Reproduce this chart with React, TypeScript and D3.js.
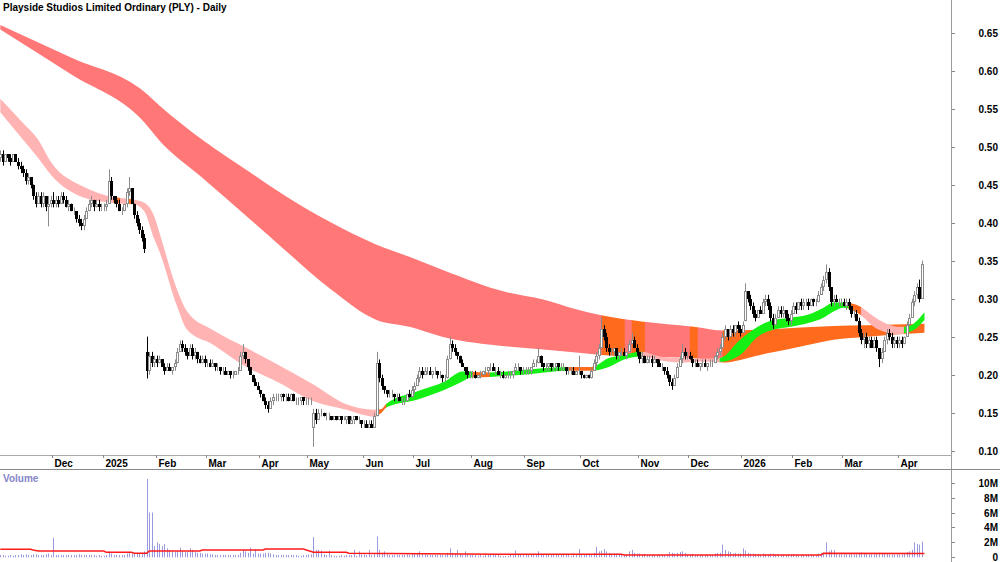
import React, { useEffect, useRef } from 'react';
import * as d3 from 'd3';

// daily bars, one array per month: [open, high, low, close, volume]
// prices in cents, volume in millions of shares
const nov24 = [
  [48.5,49.5,48,49,.3],[49,49.5,47.5,48,.3],[48,49,48,49,.2],[49,49,48,48.5,.2],[48.5,49,47.5,48,.3],
  [48,49,48,49,.2],[49,49,48,48,.3],[48,48.5,47,47.5,.3],[47.5,48,46.5,47,.4],[47,47.5,46,46.5,.3],
  [46.5,47,45,45.5,.4],[45.5,46.5,45,46,.3],[46,46,44.5,45,.3],[45,45,43,43.5,.4],[43.5,44,42,42.5,.4],
  [42.5,44,42.5,43.5,.3],[43.5,44,42,42.5,.3],[42.5,44,42,43.5,.3],[43.5,43.5,41.5,42,.4],[42,43.5,39.5,42.5,.5],
  [42.5,43.5,42,43,.3],
];
const dec24 = [
  [43,44,42,42.5,2.6],[42.5,43.5,42,43,.3],[43,43.5,42,42.5,.3],[42.5,44,42.5,43.5,.3],[43.5,44,42.5,43,.3],
  [43,43.5,42,42,.3],[42,43,41.5,42.5,.3],[42.5,42.5,41.5,41.5,.3],[41.5,42,41,41.5,.3],[41.5,41.5,40,40.5,.3],
  [40.5,41,39.5,40,.4],[40,40.5,39,39.5,.3],[39.5,41,39,40.5,.3],[40.5,42,40.5,41.5,.3],[41.5,43,41.5,42.5,.3],
  [42.5,43.5,42,43,.3],[43,43,41.5,42,.3],[42,43,42,42.5,.2],[42.5,43,41.5,42,.3],[42,42.5,41.5,42,.2],
];
const jan25 = [
  [42,42.5,41.5,42,.2],[42,43,41.5,42.5,.3],[42.5,47,42.5,45.5,.8],[45.5,46,43,43.5,.5],[43.5,43.5,42.5,43,.3],
  [43,43.5,42,42.5,.3],[42.5,43,41.5,41.5,.3],[41.5,42,41,41.5,.3],[41.5,42.5,41.5,42.5,.3],[42.5,44.5,42,44,.5],
  [44,46,43.5,44.5,.6],[44.5,44.5,42.5,42.5,.5],[42.5,42.5,40.5,41,.5],[41,41.5,39.5,40,.5],[40,40.5,38.5,39,.5],
  [39,39.5,37.5,38,.6],[38,38.5,36,36.5,.8],[23,25,19.5,20.5,10.5],[20.5,23,20,22.5,6],[22.5,23,21,21.5,6],
  [21.5,22.5,21,22,1.5],
];
const feb25 = [
  [22,22.5,21,21.5,2],[21.5,22.5,21.5,22,1.8],[22,22,21,21,1.5],[21,21.5,20,20.5,1.8],[20.5,21.5,20.5,21,1.2],
  [21,21.5,20.5,20.5,1],[20.5,21,20,21,.8],[21,22,20.5,21.5,.7],[21.5,23.5,21.5,23,.8],[23,24.5,23,24,1.3],
  [24,24.5,23,23.5,.8],[23.5,24,22.5,23,.7],[23,23.5,22,22.5,.7],[22.5,24,22.5,23.5,1.2],[23.5,24,22,22.5,1],
  [22.5,23.5,22,23,.7],[23,23,21.5,22,.6],[22,22.5,21.5,21.5,.6],[21.5,22.5,21.5,22,.5],[22,22.5,21,21.5,.5],
];
const mar25 = [
  [21.5,22,21,21.5,.5],[21.5,22,21,21,.4],[21,22,21,21.5,.4],[21.5,21.5,20.5,21,.3],[21,21.5,20.5,21,.3],
  [21,21,20,20.5,.3],[20.5,21,20,20.5,.3],[20.5,21,20,20,.3],[20,20.5,20,20.5,.3],[20.5,20.5,19.5,20,.3],
  [20,20.5,19.5,20,.3],[20,20.5,20,20.5,.3],[20.5,21,20,20.5,.3],[20.5,23,20.5,22.5,.6],[22.5,24,22,23,1],
  [23,23,21.5,22,.8],[22,22,20.5,21,.6],[21,21,20,20,1.3],[20,20,19,19,.5],[19,19.5,18.5,18.5,1.1],
  [18.5,19,18,18,.5],
];
const apr25 = [
  [18,18,17,17.5,.5],[17.5,17.5,16.5,16.5,.5],[16.5,17,15.5,16,.6],[16,16.5,15,15.5,.6],[15.5,17,15.5,16.5,.5],
  [16.5,17.5,16,17,.4],[17,17.5,16.5,17,.3],[17,17.5,16.5,17,.3],[17,17.5,16.5,17.5,.3],[17.5,17.5,16.5,17,.3],
  [17,17.5,16.5,17,.3],[17,17.5,16.5,16.5,.3],[16.5,17.5,16.5,17.5,.3],[17.5,17.5,16.5,16.5,.3],[16.5,17,16,16.5,.3],
  [16.5,17,16,16.5,.2],[16.5,17,16,17,.2],[17,17,16,16.5,.3],[16.5,17,16,16.5,.3],
];
const may25 = [
  [16.5,17,16,16.5,.4],[16.5,17,16,16.5,.4],[13,15.5,10.5,15,2.7],[15,15.5,13.5,14,1],[14,15.5,14,15,1],
  [15,15.5,14.5,15,.9],[15,15,14.5,14.5,.4],[14.5,15,14,14.5,.3],[14.5,15,14,14.5,.9],[14.5,14.5,14,14,.3],
  [14,14.5,14,14.5,.2],[14.5,14.5,14,14,.2],[14,14.5,14,14.5,.2],[14.5,14.5,13.5,14,.3],[14,14.5,14,14,.2],
  [14,14.5,13.5,14.5,.3],[14.5,14.5,13.5,13.5,.3],[13.5,14.5,13.5,14,.3],[14,14.5,13.5,14.5,1],[14.5,14.5,14,14,.2],
  [14,14.5,13.5,14,.8],[14,14,13,13.5,.4],
];
const jun25 = [
  [13.5,14,13,13.5,.4],[13.5,14,13,13,.3],[13,14,13,13.5,1],[13.5,14,13,13,.3],[13,15,13,14.5,.4],
  [14.5,23,14.5,21.5,2.8],[21.5,22,19,19.5,1],[19.5,20,18,18.5,.6],[18.5,18.5,17.5,18,.8],[18,18,17,17.5,.4],
  [17.5,18,17,17.5,.3],[17.5,18,17,17.5,.3],[17.5,17.5,16.5,17,.3],[17,17.5,16.5,17,.3],[17,17.5,16.5,16.5,.3],
  [16.5,17,16,16.5,.3],[16.5,17,16,16.5,.3],[16.5,17.5,16.5,17.5,.4],[17.5,18,17,17,.3],[17,18.5,17,18,.5],
];
const jul25 = [
  [18,19,17.5,18.5,.5],[18.5,20,18.5,19.5,.6],[19.5,21,19,20.5,.8],[20.5,21,19.5,20,.5],[20,21,20,20.5,.4],
  [20.5,21,20,20.5,.3],[20.5,21,20,20,.3],[20,20.5,19.5,20.5,.3],[20.5,21,20,20.5,.3],[20.5,20.5,19.5,20,.3],
  [20,20.5,19.5,20,.3],[20,20,19,19.5,.3],[19.5,20,19,19.5,.3],[19.5,22.5,19.5,22,.6],[22,25,22,24,1.2],
  [24,24.5,23,23.5,.6],[23.5,24,22.5,23,.5],[23,23,22,22.5,1],[22.5,22.5,21.5,21.5,.5],[21.5,22,21,21,.4],
  [21,21,20,20.5,.8],[20.5,21,19.5,20,.4],[20,20.5,19.5,20,.3],
];
const aug25 = [
  [20,20.5,19.5,20,.3],[20,20.5,19.5,19.5,.3],[19.5,20,19.5,20,.2],[20,20.5,19.5,20,.3],[20,20.5,20,20.5,.2],
  [20.5,21,20,20.5,.3],[20.5,21,20,21,.3],[21,21.5,20.5,21,.4],[21,21.5,20.5,20.5,.3],[20.5,21,20,20.5,.3],
  [20.5,21,20,20,.3],[20,20.5,19.5,20,.2],[20,20.5,19.5,19.5,.2],[19.5,20,19.5,20,.2],[20,20.5,19.5,20,.2],
  [20,20.5,19.5,20,.3],[20,20.5,19.5,20.5,.3],[20.5,21.5,20.5,21,.9],[21,21.5,20.5,21,.3],[21,21,20,20.5,.3],
  [20.5,21,20,20.5,.3],
];
const sep25 = [
  [20.5,21,20,20.5,.3],[20.5,21,20,20.5,.3],[20.5,21,20,21,.4],[21,22,21,21.5,.4],[21.5,22,21,21.5,.3],
  [21.5,23.5,21.5,22.5,.8],[22.5,22.5,21,21.5,.5],[21.5,21.5,20.5,21,.3],[21,21.5,20.5,21,.3],[21,21.5,20.5,21.5,.3],
  [21.5,21.5,20.5,21,.3],[21,21.5,20.5,21,.3],[21,21.5,20.5,21.5,.3],[21.5,21.5,20.5,21,.3],[21,21.5,20.5,21,.3],
  [21,21.5,20.5,21,.3],[21,21,20,20.5,.3],[20.5,21,20,20.5,.3],[20.5,21,20,20.5,.2],[20.5,21,20,20,.3],
  [20,20.5,20,20.5,.3],[20.5,22.5,20,20.5,1.1],
];
const oct25 = [
  [20.5,20.5,19.5,20,.4],[20,20,19.5,19.5,.3],[19.5,20,19.5,20,.3],[20,20,19.5,19.5,.3],[19.5,21,19.5,20.5,.4],
  [20.5,22,20.5,21.5,.6],[21.5,23,21,22.5,1.4],[22.5,24,22,23.5,.8],[23.5,27.5,23.5,26,.9],[26,26.5,24.5,25,1.1],
  [25,25.5,23,23.5,.8],[23.5,24,22.5,23,.6],[23,23.5,22.5,23,.5],[23,23.5,22.5,23.5,.5],[23.5,23.5,22,22.5,.5],
  [22.5,23,22,23,.4],[23,23.5,22.5,23,.4],[23,23.5,22.5,22.5,.4],[22.5,23,22,23,.4],[23,24.5,23,24,.8],
  [24,25.5,24,24.5,1],[24.5,25,23.5,23.5,.6],[23.5,24,22.5,23,.5],
];
const nov25 = [
  [23,23,21.5,22,.5],[22,23,21.5,22.5,.4],[22.5,22.5,21.5,21.5,.4],[21.5,22.5,21.5,22,.3],[22,22.5,21.5,22,.3],
  [22,22.5,21,21.5,.3],[21.5,22.5,21.5,22,.3],[22,22,21,21.5,.3],[21.5,22,21,21,.3],[21,21.5,20.5,21,.3],
  [21,21,20,20.5,.3],[20.5,21,19.5,20,.4],[20,20,18.5,19,.7],[19,19.5,18,18.5,.6],[18.5,20,18.5,19.5,.5],
  [19.5,21.5,19.5,21,.6],[21,22.5,21,22,.7],[22,24,21.5,23,.8],[23,23.5,22,22.5,.6],[22.5,23,22,22.5,.4],
];
const dec25 = [
  [22.5,23,22,22,.4],[22,22.5,21,21.5,.4],[21.5,22,21,21.5,.3],[21.5,22,21,21,.3],[21,21.5,20.5,21.5,.3],
  [21.5,22,21,21.5,.3],[21.5,22,21,21,.3],[21,21.5,20.5,21.5,.3],[21.5,22,21,21.5,.3],[21.5,22,21,21.5,.3],
  [21.5,22.5,21.5,22.5,.5],[22.5,23.5,22,23,.6],[23,24,22.5,23.5,.6],[23.5,25.5,23.5,25,1.7],[25,26.5,24.5,26,1],
  [26,26,24.5,25,.8],[25,26.5,25,26,.7],[26,26.5,25,25.5,.5],[25.5,26.5,25,26.5,.6],[26.5,27,25.5,26,.5],
  [26,26.5,25,25.5,.5],
];
const jan26 = [
  [25.5,27,25.5,26.5,1.2],[27,32,27,31,.9],[31,31,29.5,30,.6],[30,30.5,28.5,29,.5],[29,29.5,27.5,28,.5],
  [28,28.5,27,27.5,.4],[27.5,28.5,27.5,28.5,.4],[28.5,29,28,28,.3],[28,30,28,29.5,.5],[29.5,30.5,29,30,.4],
  [30,30.5,28.5,29,.4],[29,29.5,27,27.5,.5],[27.5,28,26,26.5,.5],[26.5,28,26.5,27.5,.4],[27.5,29,27.5,28.5,.4],
  [28.5,29,27.5,28,.3],[28,29,27.5,28.5,.3],[28.5,28.5,27,27.5,.3],[27.5,28,26.5,27,.3],[27,28.5,26.5,28,.3],
];
const feb26 = [
  [28,29.5,28,29,.4],[29,29.5,28,28.5,.3],[28.5,29.5,28.5,29.5,.3],[29.5,30,28.5,29,.3],[29,30,28.5,29.5,.3],
  [29.5,30,29,29.5,.3],[29.5,30,28.5,29,.3],[29,30,29,30,.3],[30,30,29,29.5,.3],[29.5,30,29,29.5,.3],
  [29.5,31,29.5,30.5,.5],[30.5,32,30.5,31.5,.6],[31.5,33,31,32.5,.6],[32.5,34.5,32,33.5,2],[33.5,34,31,31.5,.8],
  [31.5,31.5,29,29.5,1],[29.5,30.5,29,30,1],[30,30.5,29.5,29.5,.4],[29.5,30,29,29.5,.4],[29.5,30,29,29.5,.4],
];
const mar26 = [
  [29.5,30,29,29,.4],[29,30,28.5,29.5,.4],[29.5,30,28.5,29,.4],[29,29,27.5,28,.5],[28,28.5,27.5,28,.4],
  [28,28.5,27,27,.4],[27,27.5,25,25.5,.6],[25.5,26,24,24.5,.6],[24.5,25.5,23.5,25,.5],[25,25.5,23.5,24,.5],
  [24,25,23.5,24.5,.4],[24.5,25,23.5,23.5,.4],[23.5,25,23.5,24.5,.4],[24.5,25,23,23.5,.5],[23.5,23.5,21,22,.6],
  [22,23.5,21.5,23,.5],[23,25,23,24.5,.5],[24.5,26,24,25.5,.5],[25.5,26,24.5,25,.4],[25,25.5,23.5,24,.4],
  [24,25,23.5,24.5,.4],[24.5,25,23.5,24,.4],
];
const apr26 = [
  [24,25,23.5,24.5,.4],[24.5,25,23.5,24,.4],[24,25,24,25,.5],[25,27,25,26.5,.7],[26.5,28,26.5,27.5,.8],
  [27.5,30,27.5,29.5,1],[29.5,31,29,30.5,2],[30.5,32,30,31.5,1.8],[31.5,32.5,29.5,30,1.7],[30,35,30,34.5,2.1],
];

const monthBars = [nov24, dec24, jan25, feb25, mar25, apr25, may25, jun25, jul25, aug25, sep25, oct25, nov25, dec25, jan26, feb26, mar26, apr26];
const monthLabels = ['', 'Dec', '2025', 'Feb', 'Mar', 'Apr', 'May', 'Jun', 'Jul', 'Aug', 'Sep', 'Oct', 'Nov', 'Dec', '2026', 'Feb', 'Mar', 'Apr'];

const priceTicks = [0.10, 0.15, 0.20, 0.25, 0.30, 0.35, 0.40, 0.45, 0.50, 0.55, 0.60, 0.65];
const volumeTicks = [0, 2, 4, 6, 8, 10];

// moving average ribbons: [bar index, upper, lower]
const longRibbon = [
  [0,.660,.654],[28,.617,.595],[57,.572,.532],[63,.554,.508],[80,.509,.459],[99,.466,.404],[112,.437,.366],
  [131,.400,.312],[149,.371,.272],[162,.355,.263],[175,.338,.250],[201,.308,.237],[215,.299,.233],[228,.286,.229],
  [238,.278,.226],[254,.270,.224],[277,.262,.221],[286,.258,.216],[301,.259,.226],[307,.260,.230],[317,.262,.237],
  [330,.264,.246],[343,.265,.250],[366,.267,.255],
];
const shortRibbon = [
  [0,.563,.545],[9,.531,.509],[15,.509,.485],[20,.480,.463],[33,.447,.433],[44,.434,.426],[53,.430,.424],
  [57,.426,.415],[61,.408,.378],[63,.387,.362],[70,.312,.290],[74,.283,.259],[84,.259,.240],[97,.236,.211],
  [110,.213,.190],[124,.187,.165],[137,.161,.154],[148,.154,.145],[151,.155,.150],[153,.162,.157],[165,.178,.167],
  [176,.191,.180],[183,.204,.191],[186,.204,.196],[194,.203,.197],[210,.207,.201],[225,.210,.205],[234,.210,.205],
  [241,.222,.210],[247,.226,.220],[254,.230,.224],[261,.224,.219],[269,.222,.216],[277,.221,.217],[285,.222,.217],
  [293,.246,.226],[300,.263,.250],[306,.272,.259],[313,.275,.263],[320,.279,.268],[326,.288,.275],[330,.295,.283],
  [334,.295,.288],[339,.292,.282],[348,.272,.259],[356,.263,.253],[359,.263,.255],[362,.268,.259],[366,.282,.272],
];
// ribbon state runs: [from bar, to bar, state]
const longStates = [
  [0,238.3,'down'],[238.3,247.4,'mixed'],[247.4,250.2,'down'],[250.2,255.4,'mixed'],[255.4,273.2,'down'],
  [273.2,276.3,'mixed'],[276.3,286.2,'down'],[286.2,367,'mixed'],
];
const shortStates = [
  [0,45,'down'],[45,47.5,'mixed'],[47.5,50,'down'],[50,52.5,'mixed'],[52.5,149,'down'],[149,153,'mixed'],
  [153,187,'up'],[187,194,'mixed'],[194,225,'up'],[225,235,'mixed'],[235,254,'up'],[254,285,'down'],
  [285,336,'up'],[336,341,'mixed'],[341,358,'down'],[358,367,'up'],
];
// volume moving average, millions: [bar index, value]
const volumeAverage = [
  [0,1.07],[12,1.07],[13,0.98],[15,0.84],[41,0.84],[42,0.67],[52,0.67],[53,0.54],[58,0.54],[59,0.84],[79,0.84],
  [80,0.98],[104,0.98],[105,1.11],[120,1.11],[124,0.67],[137,0.67],[138,0.54],[198,0.4],[246,0.4],[247,0.31],
  [325,0.31],[326,0.54],[366,0.5],
];

const W = 1000;
const H = 562;
const PLOT_RIGHT = 952;
const PRICE_BOTTOM = 455;
const AXIS_BOTTOM = 469;
const FONT = 'Arial, "Liberation Sans", sans-serif';

const longColours = { down: '#ff7777', mixed: '#ff6a1c' };
const shortColours = { down: '#ffb3b3', mixed: '#ff6a1c', up: '#14ef14' };

const App = () => {
  const svgRef = useRef(null);

  useEffect(() => {
    const svg = d3.select(svgRef.current);
    svg.selectAll('*').remove();

    const bars = monthBars.flat();
    const starts = [];
    let n = 0;
    monthBars.forEach((m) => { starts.push(n); n += m.length; });

    const x = d3.scaleLinear().domain([0, 376]).range([0.3, 949.7]);
    const y = d3.scaleLinear().domain([0.10, 0.65]).range([450.7, 32.5]);
    const yv = d3.scaleLinear().domain([0, 10]).range([557.3, 482.7]);

    svg.append('rect').attr('width', W).attr('height', H).attr('fill', '#fff');
    const defs = svg.append('defs');
    defs.append('clipPath').attr('id', 'price-clip')
      .append('rect').attr('width', PLOT_RIGHT).attr('height', PRICE_BOTTOM);

    const plot = svg.append('g').attr('clip-path', 'url(#price-clip)');

    // ribbons, coloured run by run
    const drawRibbon = (pts, runs, colours, key) => {
      const area = d3.area()
        .x(d => x(d[0]))
        .y0(d => y(d[2]))
        .y1(d => y(d[1]))
        .curve(d3.curveMonotoneX);
      const path = area(pts);
      runs.forEach(([a, b, state], k) => {
        const id = `${key}-${k}`;
        defs.append('clipPath').attr('id', id)
          .append('rect')
          .attr('x', x(a) - 0.3).attr('y', 0)
          .attr('width', x(b) - x(a) + 0.6).attr('height', PRICE_BOTTOM);
        plot.append('path')
          .attr('d', path)
          .attr('fill', colours[state])
          .attr('clip-path', `url(#${id})`);
      });
    };
    drawRibbon(longRibbon, longStates, longColours, 'long');
    drawRibbon(shortRibbon, shortStates, shortColours, 'short');

    // candles
    const candles = plot.append('g');
    bars.forEach((b, i) => {
      const [o, h, l, c] = [b[0], b[1], b[2], b[3]].map(v => v / 100);
      const cx = Math.round(x(i));
      const up = c >= o;
      const colour = up ? '#8c8c8c' : '#000';
      candles.append('line')
        .attr('x1', cx + 0.5).attr('x2', cx + 0.5)
        .attr('y1', y(h)).attr('y2', y(l))
        .attr('stroke', colour).attr('stroke-width', 1);
      const top = Math.round(y(Math.max(o, c)));
      const bottom = Math.round(y(Math.min(o, c)));
      if (up) {
        candles.append('rect')
          .attr('x', cx - 0.5).attr('y', top + 0.5)
          .attr('width', 2).attr('height', Math.max(bottom - top - 1, 0))
          .attr('fill', '#fff').attr('stroke', colour).attr('stroke-width', 1);
      } else {
        candles.append('rect')
          .attr('x', cx - 1).attr('y', top)
          .attr('width', 3).attr('height', Math.max(bottom - top, 1))
          .attr('fill', '#000');
      }
    });

    // volume
    const vol = svg.append('g');
    bars.forEach((b, i) => {
      const cx = Math.round(x(i));
      const top = yv(b[4]);
      vol.append('rect')
        .attr('x', cx).attr('y', top)
        .attr('width', 1).attr('height', Math.max(yv(0) - top, 1))
        .attr('fill', '#9a9ade');
    });
    vol.append('path')
      .attr('d', d3.line().x(d => x(d[0])).y(d => yv(d[1]))(volumeAverage))
      .attr('fill', 'none').attr('stroke', '#ff1a1a').attr('stroke-width', 1.5);

    // frame
    svg.append('line').attr('x1', PLOT_RIGHT - 0.5).attr('x2', PLOT_RIGHT - 0.5).attr('y1', 0).attr('y2', H)
      .attr('stroke', '#9a9a9a');
    svg.append('line').attr('x1', 0).attr('x2', PLOT_RIGHT).attr('y1', PRICE_BOTTOM + 0.5).attr('y2', PRICE_BOTTOM + 0.5)
      .attr('stroke', '#aaa');
    svg.append('line').attr('x1', 0).attr('x2', W).attr('y1', AXIS_BOTTOM + 0.5).attr('y2', AXIS_BOTTOM + 0.5)
      .attr('stroke', '#888');

    // price axis
    priceTicks.forEach((t) => {
      const ty = Math.round(y(t)) + 0.5;
      svg.append('line').attr('x1', PLOT_RIGHT).attr('x2', PLOT_RIGHT + 3).attr('y1', ty).attr('y2', ty).attr('stroke', '#888');
      svg.append('text').attr('x', 998).attr('y', ty + 3.5)
        .attr('text-anchor', 'end').attr('font-family', FONT).attr('font-size', 10).attr('font-weight', 'bold')
        .attr('fill', '#000').text(t.toFixed(2));
    });

    // volume axis
    volumeTicks.forEach((t) => {
      const ty = Math.round(yv(t)) + 0.5;
      svg.append('line').attr('x1', PLOT_RIGHT).attr('x2', PLOT_RIGHT + 3).attr('y1', ty).attr('y2', ty).attr('stroke', '#888');
      svg.append('text').attr('x', 998).attr('y', ty + 3.5)
        .attr('text-anchor', 'end').attr('font-family', FONT).attr('font-size', 10).attr('font-weight', 'bold')
        .attr('fill', '#000').text(t === 0 ? '0' : `${t}M`);
    });

    // date axis
    monthLabels.forEach((label, k) => {
      if (!label) return;
      const tx = Math.round(x(starts[k] - 0.5)) + 0.5;
      svg.append('line').attr('x1', tx).attr('x2', tx).attr('y1', PRICE_BOTTOM).attr('y2', PRICE_BOTTOM + 3).attr('stroke', '#888');
      svg.append('text').attr('x', tx + 2).attr('y', 467)
        .attr('font-family', FONT).attr('font-size', 10).attr('font-weight', 'bold')
        .attr('fill', '#000').text(label);
    });

    // titles
    svg.append('text').attr('x', 3).attr('y', 11)
      .attr('font-family', FONT).attr('font-size', 10).attr('font-weight', 'bold')
      .attr('fill', '#000').text('Playside Studios Limited Ordinary (PLY) - Daily');
    svg.append('text').attr('x', 3).attr('y', 482)
      .attr('font-family', FONT).attr('font-size', 10).attr('font-weight', 'bold')
      .attr('fill', '#8585c8').text('Volume');
  }, []);

  return (
    <svg ref={svgRef} width={W} height={H} style={{ position: 'absolute', left: 0, top: 0 }} />
  );
};

export default App;
